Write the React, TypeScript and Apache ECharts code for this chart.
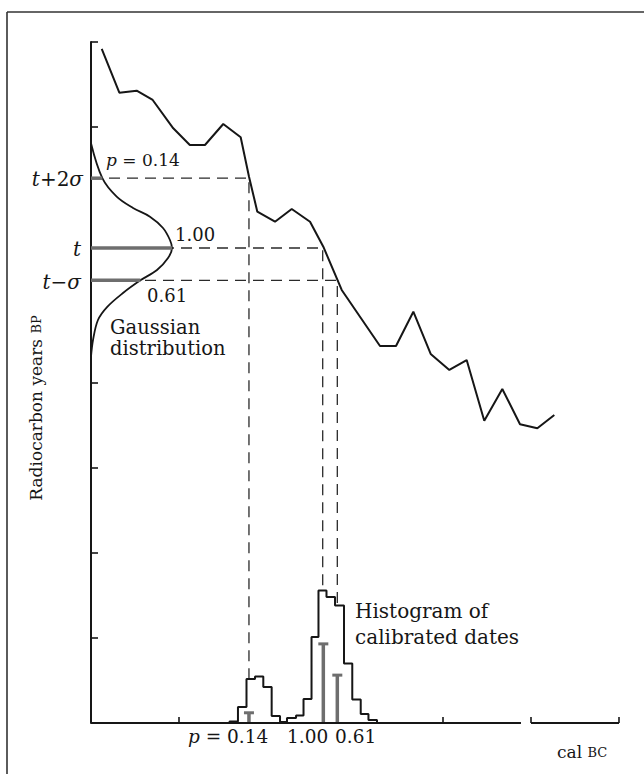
import React, { useEffect, useRef } from "react";
import * as echarts from "echarts";

// ---- Data (x: cal BC units, y: radiocarbon units) ----
const curveX = [0.122, 0.322, 0.519, 0.701, 0.935, 1.123, 1.295, 1.503, 1.701, 1.795, 1.890, 2.091, 2.281, 2.489, 2.640, 2.849, 3.284, 3.466, 3.663, 3.860, 4.072, 4.269, 4.469, 4.674, 4.875, 5.072, 5.265];
const curveY = [7.918, 7.405, 7.428, 7.319, 6.986, 6.790, 6.790, 7.037, 6.881, 6.420, 6.007, 5.889, 6.038, 5.889, 5.595, 5.087, 4.429, 4.429, 4.832, 4.335, 4.147, 4.264, 3.551, 3.924, 3.509, 3.462, 3.618];

// Gaussian distribution (relative density vs radiocarbon age)
const gaussD = [0, 0.14, 0.317, 0.519, 0.728, 0.889, 0.975, 1.0, 0.951, 0.815, 0.61, 0.395, 0.198, 0.086, 0.025, 0];
const gaussY = [6.81, 6.40, 6.183, 6.05, 5.948, 5.815, 5.674, 5.58, 5.463, 5.322, 5.20, 5.051, 4.886, 4.734, 4.499, 4.303];

// probability stubs on the Gaussian: t+2σ, t, t−σ
const stubY = [6.40, 5.58, 5.20];
const stubP = [0.14, 1.0, 0.61];

// dashed connectors (crossing with calibration curve, bottom at histogram top)
const connX = [1.795, 2.633, 2.799];
const connY = [6.40, 5.58, 5.20];
const connBottom = [0.52, 1.56, 1.40];

// histogram of calibrated dates
const histEdges = [1.574, 1.670, 1.767, 1.864, 1.958, 2.053, 2.148, 2.227, 2.330, 2.415, 2.506, 2.585, 2.676, 2.773, 2.875, 2.969, 3.065, 3.153, 3.250];
const histHeights = [0.018, 0.188, 0.517, 0.546, 0.423, 0.082, 0.012, 0.059, 0.088, 0.282, 1.010, 1.557, 1.480, 1.380, 0.700, 0.276, 0.106, 0.035];

// probability markers on the calendar axis
const markX = [1.795, 2.640, 2.799];
const markP = [0.14, 1.0, 0.61];

// x-axis segments (broken axis) and tick positions
const axisSegStart = [0, 5];
const axisSegEnd = [4.886, 6];
const xTicks = [1, 4, 5, 6];
const yTicks = [1, 2, 3, 4, 7, 8];

const SERIF = "DejaVu Serif";
const INK = "#161616";
const GREY = "#6e6e6e";

function label(x: number, y: number, text: string, size: number, align: string, rich?: any, extra?: any, lineHeight?: number) {
  return {
    type: "text",
    x,
    y,
    z: 50,
    ...(extra || {}),
    style: {
      text,
      fontFamily: SERIF,
      fontSize: size,
      fill: INK,
      align,
      verticalAlign: "middle",
      textAlign: align,
      textVerticalAlign: "middle",
      lineHeight,
      rich,
    },
  };
}

export default function App() {
  const ref = useRef<HTMLDivElement>(null);

  useEffect(() => {
    document.body.style.margin = "0";
    const chart = echarts.init(ref.current!, null, { renderer: "svg" });

    const italic = (s: number) => ({ fontStyle: "italic", fontFamily: SERIF, fontSize: s, fill: INK });
    const plain = (s: number) => ({ fontFamily: SERIF, fontSize: s, fill: INK });

    const option: any = {
      animation: false,
      backgroundColor: "#ffffff",
      grid: { left: 91, top: 42, width: 528, height: 681 },
      xAxis: [
        {
          type: "value",
          min: 0,
          max: 6,
          axisLine: { show: false },
          axisTick: { show: true, inside: true, length: 6, customValues: xTicks, lineStyle: { color: INK, width: 1.6 } },
          axisLabel: { show: false },
          splitLine: { show: false },
        },
        { type: "value", min: 0, max: 6.52, show: false, position: "top" },
      ],
      yAxis: [
        {
          type: "value",
          min: 0,
          max: 8,
          axisLine: { show: true, lineStyle: { color: INK, width: 2 } },
          axisTick: { show: true, inside: true, length: 7, customValues: yTicks, lineStyle: { color: INK, width: 1.6 } },
          axisLabel: { show: false },
          splitLine: { show: false },
        },
        { type: "value", min: 0, max: 8.5, show: false },
      ],
      series: [
        {
          name: "calibration",
          type: "line",
          xAxisIndex: 0,
          yAxisIndex: 0,
          data: curveX.map((x, i) => [x, curveY[i]]),
          symbol: "none",
          lineStyle: { color: INK, width: 2 },
          z: 5,
        },
        {
          name: "gaussian",
          type: "line",
          xAxisIndex: 1,
          yAxisIndex: 0,
          data: gaussD.map((d, i) => [d, gaussY[i]]),
          smooth: 0.35,
          symbol: "none",
          lineStyle: { color: INK, width: 1.8 },
          z: 5,
        },
        {
          name: "connectors",
          type: "custom",
          xAxisIndex: 0,
          yAxisIndex: 0,
          data: connX.map((x, i) => [x, connY[i], connBottom[i]]),
          renderItem: (params: any, api: any) => {
            const a = api.coord([0, api.value(1)]);
            const b = api.coord([api.value(0), api.value(1)]);
            const c = api.coord([api.value(0), api.value(2)]);
            return {
              type: "polyline",
              shape: { points: [a, b, c] },
              style: { stroke: "#2a2a2a", fill: "none", lineWidth: 1.3, lineDash: [11, 7] },
            };
          },
          z: 3,
        },
        {
          name: "stubs",
          type: "custom",
          xAxisIndex: 1,
          yAxisIndex: 0,
          data: stubP.map((p, i) => [p, stubY[i]]),
          renderItem: (params: any, api: any) => {
            const a = api.coord([0, api.value(1)]);
            const b = api.coord([api.value(0), api.value(1)]);
            return {
              type: "line",
              shape: { x1: a[0], y1: a[1], x2: b[0], y2: b[1] },
              style: { stroke: GREY, lineWidth: 3.5 },
            };
          },
          z: 6,
        },
        {
          name: "histogram",
          type: "line",
          xAxisIndex: 0,
          yAxisIndex: 0,
          step: "end",
          data: [[histEdges[0], 0]].concat(histEdges.map((e, i) => [e, i < histHeights.length ? histHeights[i] : 0])),
          symbol: "none",
          lineStyle: { color: INK, width: 2 },
          z: 5,
        },
        {
          name: "markers",
          type: "custom",
          xAxisIndex: 0,
          yAxisIndex: 1,
          data: markX.map((x, i) => [x, markP[i]]),
          renderItem: (params: any, api: any) => {
            const a = api.coord([api.value(0), 0]);
            const b = api.coord([api.value(0), api.value(1)]);
            return {
              type: "group",
              children: [
                { type: "line", shape: { x1: a[0], y1: a[1], x2: b[0], y2: b[1] + 1 }, style: { stroke: GREY, lineWidth: 3.5 } },
                { type: "line", shape: { x1: b[0] - 5, y1: b[1] + 1, x2: b[0] + 5, y2: b[1] + 1 }, style: { stroke: GREY, lineWidth: 3 } },
              ],
            };
          },
          z: 6,
        },
        {
          name: "xaxis",
          type: "custom",
          xAxisIndex: 0,
          yAxisIndex: 0,
          data: axisSegStart.map((s, i) => [s, axisSegEnd[i]]),
          renderItem: (params: any, api: any) => {
            const a = api.coord([api.value(0), 0]);
            const b = api.coord([api.value(1), 0]);
            return {
              type: "line",
              shape: { x1: a[0], y1: a[1], x2: b[0], y2: b[1] },
              style: { stroke: INK, lineWidth: 2 },
            };
          },
          z: 7,
        },
      ],
      graphic: [
        { type: "line", shape: { x1: 7, y1: 12, x2: 7, y2: 800 }, style: { stroke: "#333", lineWidth: 1.6 } },
        { type: "line", shape: { x1: 7, y1: 12, x2: 700, y2: 12 }, style: { stroke: "#333", lineWidth: 1.6 } },
        label(106, 160, "{i|p} = 0.14", 17, "left", { i: italic(17), n: plain(17) }),
        label(83, 179, "{i|t}+2{i|σ}", 20, "right", { i: italic(20) }),
        label(81, 249, "{i|t}", 20, "right", { i: italic(20) }),
        label(81, 282, "{i|t}−{i|σ}", 20, "right", { i: italic(20) }),
        label(175, 234, "1.00", 18, "left"),
        label(147, 295, "0.61", 18, "left"),
        label(110, 337.5, "Gaussian\ndistribution", 19.5, "left", undefined, undefined, 21),
        label(355, 624, "Histogram of\ncalibrated dates", 20, "left", undefined, undefined, 26),
        label(188, 736, "{i|p} = 0.14", 18.5, "left", { i: italic(18.5) }),
        label(287, 736, "1.00", 18.5, "left"),
        label(335, 736, "0.61", 18.5, "left"),
        label(557, 752, "cal {s|BC}", 17, "left", { s: plain(13) }),
        label(36, 408, "Radiocarbon years {s|BP}", 17, "center", { s: plain(13) }, { rotation: Math.PI / 2 }),
      ],
    };

    chart.setOption(option);
    return () => chart.dispose();
  }, []);

  return <div ref={ref} style={{ width: 644, height: 774 }} />;
}
